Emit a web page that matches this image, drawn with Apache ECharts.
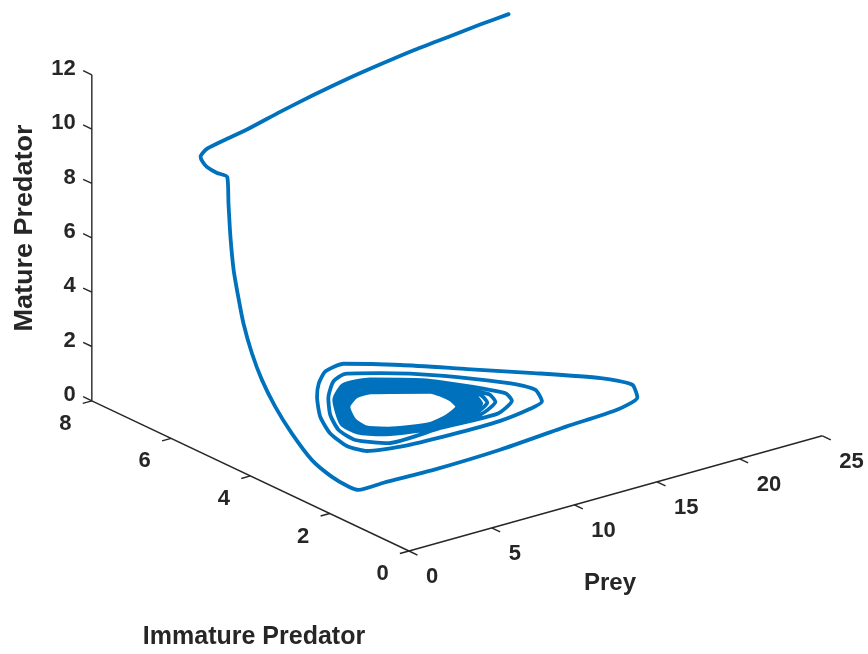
<!DOCTYPE html>
<html>
<head>
<meta charset="utf-8">
<script src="https://cdn.jsdelivr.net/npm/echarts@6/dist/echarts.min.js"></script>
<style>
  html, body { margin: 0; padding: 0; background: #ffffff; }
  #chart { width: 868px; height: 654px; }
</style>
</head>
<body>
<div id="chart"></div>
<script>
// Trajectory of the stage-structured predator-prey system (prey, immature, mature):
// initial transient, the first wide loops, then the loops winding onto the limit cycle
const prey = [
  21.18, 19.52, 17.44, 15.32, 13.14, 10.91, 8.59, 6.19, 3.73, 2.17, 1.09, 0.75, 0.39, 0.26, 0.25, 0.26, 0.54,
  0.40, 0.35, 0.33, 0.32, 0.32, 0.33, 0.36, 0.42, 0.55, 0.75, 1.00, 1.30, 1.70,
  3.43, 6.47, 10.69, 15.11, 18.29, 19.95, 20.34, 19.34, 16.87, 14.33, 11.80, 9.40, 7.86, 6.56, 5.42, 4.15, 3.52, 3.46, 4.15,
  5.99, 8.94, 11.97, 13.97, 14.90, 15.37, 14.74, 12.35, 10.03, 8.54, 7.37, 5.84, 4.78, 4.21, 4.26, 5.92,
  9.23, 12.52, 13.92, 14.07, 11.77, 9.27, 7.58, 6.03, 4.69, 5.16,
  6.52, 9.23, 11.89, 13.21, 13.36, 11.64, 9.12, 7.52, 6.03, 4.81, 5.27,
  6.61, 9.22, 11.59, 12.84, 12.98, 11.51, 8.97, 7.46, 6.02, 4.92, 5.38,
  6.71, 9.21, 11.36, 12.54, 12.68, 11.39, 8.82, 7.40, 6.02, 5.04, 5.48,
  6.76, 9.21, 11.26, 12.40, 12.54, 11.33, 8.75, 7.37, 6.02, 5.10, 5.54,
  6.80, 9.20, 11.15, 12.25, 12.39, 11.26, 8.68, 7.33, 6.01, 5.16, 5.59,
  6.85, 9.20, 11.04, 12.10, 12.24, 11.20, 8.61, 7.30, 6.01, 5.22, 5.65,
  6.90, 9.19, 10.92, 11.95, 12.09, 11.13, 8.53, 7.27, 6.01, 5.27, 5.70,
  6.95, 9.19, 10.81, 11.81, 11.94, 11.07, 8.46, 7.24, 6.01, 5.33, 5.75,
  6.99, 9.18, 10.69, 11.66, 11.78, 11.01, 8.38, 7.21, 6.00, 5.39, 5.80,
  7.04, 9.18, 10.58, 11.51, 11.63, 10.95, 8.31, 7.18, 6.00, 5.45, 5.86,
  7.09, 9.18, 10.47, 11.36, 11.47, 10.88, 8.23, 7.15, 6.00, 5.51, 5.91, 7.09
];
const immature = [
  6.32, 6.33, 6.30, 6.27, 6.20, 6.11, 5.98, 5.82, 5.63, 5.57, 5.54, 5.50, 5.42, 5.31, 5.20, 4.95, 4.81,
  4.72, 4.65, 4.56, 4.44, 4.31, 4.10, 3.86, 3.55, 3.19, 2.76, 2.37, 2.06, 1.98,
  2.07, 2.08, 2.16, 2.32, 2.38, 2.56, 2.85, 3.23, 3.89, 4.51, 5.13, 5.57, 5.39, 5.01, 4.58, 3.97, 3.46, 3.01, 2.79,
  2.71, 2.69, 2.69, 2.77, 2.86, 3.22, 3.58, 4.36, 4.91, 5.17, 4.98, 4.47, 3.98, 3.53, 3.13, 2.99,
  3.06, 3.00, 3.21, 3.44, 4.37, 4.84, 4.82, 4.40, 3.66, 3.46,
  3.31, 3.09, 3.14, 3.33, 3.56, 4.31, 4.78, 4.74, 4.35, 3.66, 3.47,
  3.34, 3.13, 3.20, 3.38, 3.61, 4.26, 4.72, 4.67, 4.30, 3.67, 3.48,
  3.36, 3.16, 3.24, 3.41, 3.63, 4.21, 4.65, 4.60, 4.24, 3.67, 3.50,
  3.38, 3.18, 3.26, 3.42, 3.65, 4.19, 4.62, 4.57, 4.22, 3.67, 3.51,
  3.39, 3.19, 3.28, 3.43, 3.66, 4.16, 4.59, 4.53, 4.19, 3.67, 3.51,
  3.41, 3.21, 3.30, 3.45, 3.68, 4.13, 4.56, 4.50, 4.17, 3.67, 3.52,
  3.42, 3.22, 3.32, 3.46, 3.69, 4.10, 4.53, 4.46, 4.14, 3.67, 3.52,
  3.44, 3.24, 3.34, 3.48, 3.70, 4.08, 4.50, 4.42, 4.11, 3.68, 3.53,
  3.45, 3.26, 3.36, 3.49, 3.71, 4.05, 4.47, 4.38, 4.08, 3.68, 3.53,
  3.47, 3.28, 3.38, 3.51, 3.73, 4.03, 4.44, 4.35, 4.06, 3.68, 3.54,
  3.48, 3.29, 3.40, 3.52, 3.74, 4.00, 4.40, 4.31, 4.03, 3.68, 3.54, 3.48
];
const mature = [
  11.8, 11.7, 11.6, 11.5, 11.4, 11.3, 11.2, 11.1, 11.0, 10.9, 10.8, 10.75, 10.7, 10.6, 10.5, 10.45, 10.35,
  9.46, 8.29, 7.13, 6.23, 5.35, 4.39, 3.57, 2.79, 2.04, 1.31, 0.93, 0.72, 0.59,
  0.50, 0.45, 0.42, 0.42, 0.45, 0.50, 0.70, 0.85, 1.00, 1.15, 1.30, 1.45, 1.55, 1.60, 1.60, 1.50, 1.35, 1.20, 1.05,
  0.95, 0.90, 0.90, 0.95, 1.00, 1.10, 1.20, 1.35, 1.45, 1.50, 1.55, 1.55, 1.45, 1.30, 1.20, 0.90,
  0.85, 0.85, 0.95, 1.05, 1.25, 1.40, 1.50, 1.50, 1.35, 1.10,
  0.90, 0.85, 0.85, 0.95, 1.05, 1.25, 1.40, 1.50, 1.50, 1.35, 1.10,
  0.90, 0.85, 0.85, 0.95, 1.05, 1.25, 1.40, 1.50, 1.50, 1.35, 1.10,
  0.90, 0.85, 0.85, 0.95, 1.05, 1.25, 1.40, 1.50, 1.50, 1.35, 1.10,
  0.90, 0.85, 0.85, 0.95, 1.05, 1.25, 1.40, 1.50, 1.50, 1.35, 1.10,
  0.90, 0.85, 0.85, 0.95, 1.05, 1.25, 1.40, 1.50, 1.50, 1.35, 1.10,
  0.90, 0.85, 0.85, 0.95, 1.05, 1.25, 1.40, 1.50, 1.50, 1.35, 1.10,
  0.90, 0.85, 0.85, 0.95, 1.05, 1.25, 1.40, 1.50, 1.50, 1.35, 1.10,
  0.90, 0.85, 0.85, 0.95, 1.05, 1.25, 1.40, 1.50, 1.50, 1.35, 1.10,
  0.90, 0.85, 0.85, 0.95, 1.05, 1.25, 1.40, 1.50, 1.50, 1.35, 1.10,
  0.90, 0.85, 0.85, 0.95, 1.05, 1.25, 1.40, 1.50, 1.50, 1.35, 1.10,
  0.90, 0.85, 0.85, 0.95, 1.05, 1.25, 1.40, 1.50, 1.50, 1.35, 1.10, 0.90
];

// Axis limits and tick values
const preyRange = [0, 25];
const immatureRange = [0, 8];
const matureRange = [0, 12];
const preyTicks = [0, 5, 10, 15, 20, 25];
const immatureTicks = [0, 2, 4, 6, 8];
const matureTicks = [0, 2, 4, 6, 8, 10, 12];

const W = 868, H = 654;
const TEXT = '#262626';
const LINE = '#0072BD';
const FONT = '"Liberation Sans", Arial, Helvetica, sans-serif';
const TICK_FONT = 'bold 22px ' + FONT;

// Orthographic 3-D view (azimuth / elevation) onto the flat drawing plane
const view = { az: -37.5, el: 21.3, boxX: 521, boxY: 521, boxZ: 350, ox: 409, oy: 103 };
const rad = Math.PI / 180;
const ca = Math.cos(view.az * rad), sa = Math.sin(view.az * rad);
const ce = Math.cos(view.el * rad), se = Math.sin(view.el * rad);

function project(p, i, m) {
  const u = (p - preyRange[0]) / (preyRange[1] - preyRange[0]) * view.boxX;
  const v = (i - immatureRange[0]) / (immatureRange[1] - immatureRange[0]) * view.boxY;
  const w = (m - matureRange[0]) / (matureRange[1] - matureRange[0]) * view.boxZ;
  const sx = u * ca + v * sa;
  const sy = -u * se * sa + v * se * ca + w * ce;
  return [view.ox + sx, view.oy + sy];
}

const trajectory = prey.map((p, k) => project(p, immature[k], mature[k]));

// One custom series per 3-D axis: axis line, tick marks and tick labels
function axisSeries(name, ticks, at, tickEnd, start, end, label) {
  return {
    name: name,
    type: 'custom',
    coordinateSystem: 'cartesian2d',
    clip: false,
    silent: true,
    z: 1,
    data: ticks.map(t => [t, 0]),
    renderItem: function (params, api) {
      const t = api.value(0);
      const a = api.coord(project.apply(null, at(t)));
      const b = api.coord(project.apply(null, tickEnd(t)));
      const children = [
        { type: 'line', shape: { x1: a[0], y1: a[1], x2: b[0], y2: b[1] },
          style: { stroke: TEXT, lineWidth: 1.4 } },
        { type: 'text', x: a[0] + label.dx, y: a[1] + label.dy,
          style: { text: String(t), fill: TEXT, font: TICK_FONT,
                   align: label.align, verticalAlign: 'middle' } }
      ];
      if (params.dataIndex === 0) {
        const s = api.coord(project.apply(null, start));
        const e = api.coord(project.apply(null, end));
        children.push({ type: 'line', shape: { x1: s[0], y1: s[1], x2: e[0], y2: e[1] },
                        style: { stroke: TEXT, lineWidth: 1.4 } });
      }
      return { type: 'group', children: children };
    }
  };
}

const chart = echarts.init(document.getElementById('chart'), null, { renderer: 'canvas', width: W, height: H });

chart.setOption({
  animation: false,
  backgroundColor: '#ffffff',
  grid: { left: 0, right: 0, top: 0, bottom: 0 },
  xAxis: { type: 'value', min: 0, max: W, show: false },
  yAxis: { type: 'value', min: 0, max: H, show: false },
  graphic: [
    { type: 'text', x: 610, y: 583, silent: true,
      style: { text: 'Prey', fill: TEXT, font: 'bold 24px ' + FONT, align: 'center', verticalAlign: 'middle' } },
    { type: 'text', x: 254, y: 637, silent: true,
      style: { text: 'Immature Predator', fill: TEXT, font: 'bold 25px ' + FONT, align: 'center', verticalAlign: 'middle' } },
    { type: 'text', x: 25, y: 228, rotation: Math.PI / 2, scaleX: 1.08, silent: true,
      style: { text: 'Mature Predator', fill: TEXT, font: 'bold 25px ' + FONT, align: 'center', verticalAlign: 'middle' } }
  ],
  series: [
    axisSeries('prey-axis', preyTicks,
      t => [t, immatureRange[0], matureRange[0]],
      t => [t, immatureRange[0] - 0.214, matureRange[0]],
      [preyRange[0], immatureRange[0], matureRange[0]],
      [preyRange[1], immatureRange[0], matureRange[0]],
      { dx: 17, dy: 26, align: 'left' }),
    axisSeries('immature-axis', immatureTicks,
      t => [preyRange[0], t, matureRange[0]],
      t => [preyRange[0] - 0.55, t, matureRange[0]],
      [preyRange[0], immatureRange[0], matureRange[0]],
      [preyRange[0], immatureRange[1], matureRange[0]],
      { dx: -26.5, dy: 23, align: 'center' }),
    axisSeries('mature-axis', matureTicks,
      t => [preyRange[0], immatureRange[1], t],
      t => [preyRange[0], immatureRange[1] + 0.22, t],
      [preyRange[0], immatureRange[1], matureRange[0]],
      [preyRange[0], immatureRange[1], matureRange[1]],
      { dx: -16, dy: -6, align: 'right' }),
    {
      name: 'trajectory',
      type: 'line',
      data: trajectory,
      showSymbol: false,
      clip: false,
      smooth: 0.2,
      z: 3,
      lineStyle: { color: LINE, width: 3.8, join: 'round', cap: 'round' }
    }
  ]
});
</script>
</body>
</html>
